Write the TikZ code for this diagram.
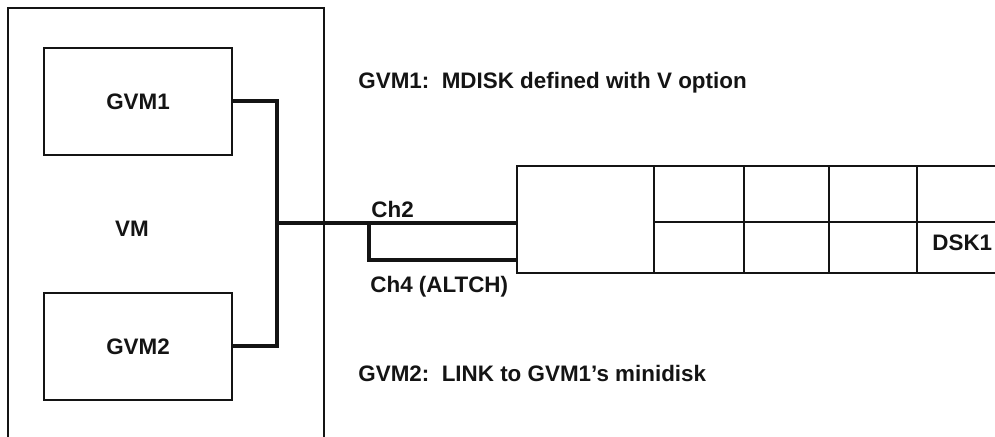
\documentclass[tikz,border=0pt]{standalone}
\usepackage{fontspec}
\setmainfont{Liberation Sans}
\usetikzlibrary{positioning}
\definecolor{scanink}{HTML}{141414}
\tikzset{
  labeltext/.style={font=\fontsize{11.2}{13}\selectfont\bfseries, text=scanink, inner sep=0pt},
  guestbox/.style={draw=scanink, line width=.9pt, minimum width=94pt, minimum height=53.5pt,
    font=\fontsize{11.2}{13}\selectfont\bfseries, text=scanink},
  frameline/.style={draw=scanink, line width=.9pt},
  chanline/.style={draw=scanink, line width=2pt}
}

\begin{document}
\begin{tikzpicture}[x=.5pt,y=-.5pt]
  \useasboundingbox (0,0) rectangle (995,437);
  % VM frame, open at the bottom
  \draw[frameline] (8,445) -- (8,8) -- (324,8) -- (324,445);
  \node[guestbox] (gvm1) at (138,101.5) {GVM1};
  \node[guestbox] (gvm2) at (138,346.5) {GVM2};
  \node[labeltext] (vm) at (132,229) {VM};

  % DSK1, open at the right
  \draw[frameline] (1000,166) -- (517,166) -- (517,273) -- (1000,273);
  \foreach \x in {654,744,829,917}
    \draw[frameline] (\x,166) -- (\x,273);
  \draw[frameline] (654,222) -- (1000,222);
  \coordinate (dsk2) at (517,223);
  \coordinate (dsk4) at (517,260);
  \node[labeltext, anchor=west] (dsk1) at (932,243) {DSK1};

  % channel paths
  \coordinate (join) at (277,223);
  \coordinate (fork) at (369,223);
  \draw[chanline] (gvm1.east) -| (join) |- (gvm2.east);
  \draw[chanline] (join) -- (dsk2);
  \draw[chanline] (fork) |- (dsk4);
  \node[labeltext, anchor=west] (ch2) at (371,209) {Ch2};
  \node[labeltext, anchor=west] (ch4) at (370,287) {Ch4 (ALTCH)};

  \node[labeltext, anchor=west] (note1) at (358,83) {GVM1:\ \ MDISK defined with V option};
  \node[labeltext, anchor=west] (note2) at (358,373) {GVM2:\ \ LINK to GVM1's minidisk};
\end{tikzpicture}
\end{document}
